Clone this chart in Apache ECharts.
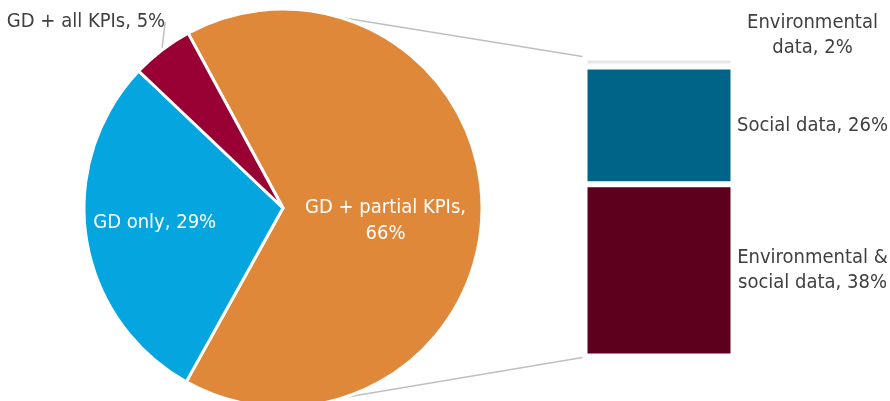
<!DOCTYPE html>
<html><head><meta charset="utf-8">
<script src="https://cdn.jsdelivr.net/npm/echarts@6/dist/echarts.min.js"></script>
<style>html,body{margin:0;padding:0;background:#fff}#c{width:890px;height:401px}</style>
</head><body><div id="c"></div>
<script>
// Pie data
const pieNames = ['GD + partial KPIs', 'GD only', 'GD + all KPIs'];
const pieValues = [66, 29, 5];
// Bar (breakdown of GD + partial KPIs), bottom to top
const barNames = ['Environmental & social data', 'Social data', 'Environmental data'];
const barValues = [38, 26, 2];
const barLabels = ['Environmental &\nsocial data, 38%', 'Social data, 26%', 'Environmental\ndata, 2%'];

const FONT = 'DejaVu Sans Condensed';
const FS = 20;
const pieColors = ['#E0883A', '#05A6E0', '#990033'];
const barColors = ['#5C001E', '#006388', '#E6E6E6'];
const PC = [283, 208], PR = 199;
const GL = 584.5, GW = 149, GT = 57.5, GB = 44.5;

const chart = echarts.init(document.getElementById('c'), null, {renderer: 'canvas'});

const pieData = pieNames.map((n, i) => {
  const d = {name: n, value: pieValues[i], itemStyle: {color: pieColors[i]}};
  if (i === 0) d.label = {position: 'inside', offset: [0, 12], color: '#fff', formatter: '{b},\n{c}%'};
  if (i === 1) d.label = {position: 'inside', offset: [-27, -1], color: '#fff'};
  if (i === 2) d.label = {position: 'outside', color: '#404040', overflow: 'none'};
  return d;
});

const barSeries = barValues.map((v, i) => ({
  type: 'bar', stack: 'b', name: barNames[i], barWidth: '100%',
  data: [v],
  itemStyle: {color: barColors[i], borderColor: '#fff', borderWidth: 3},
  label: {
    show: true, formatter: barLabels[i],
    position: i === 2 ? [228, -22.5] : [228, '50%'],
    align: 'center', verticalAlign: 'middle',
    color: '#404040', fontFamily: FONT, fontSize: FS, lineHeight: 25
  },
  silent: true, animation: false
}));

chart.setOption({
  animation: false,
  grid: {left: GL, width: GW, top: GT, bottom: GB, containLabel: false},
  xAxis: {type: 'category', data: ['GD + partial KPIs'], show: false},
  yAxis: {type: 'value', min: 0, max: 66, show: false},
  series: [{
    type: 'pie', center: PC, radius: PR, startAngle: 118.5, clockwise: true,
    data: pieData, animation: false, silent: true,
    itemStyle: {borderColor: '#fff', borderWidth: 3},
    label: {show: true, formatter: '{b}, {c}%', fontFamily: FONT, fontSize: FS, lineHeight: 26, align: 'center', overflow: 'none'},
    labelLine: {show: true, length: 2, length2: 0, lineStyle: {color: '#BFBFBF', width: 1.5}},
    labelLayout: function (p) {
      if (p.dataIndex === 2) return {x: 86, y: 22, align: 'center', verticalAlign: 'middle'};
    }
  }].concat(barSeries)
});

// connector lines from the pie edge to the bar
function piePt(deg) {
  const a = deg * Math.PI / 180;
  return [PC[0] + PR * Math.cos(a), PC[1] - PR * Math.sin(a)];
}
const yTop = chart.convertToPixel({yAxisIndex: 0}, 66);
const yBot = chart.convertToPixel({yAxisIndex: 0}, 0);
const p1 = piePt(73.5), p2 = piePt(-72.5);
chart.setOption({graphic: [
  {type: 'line', shape: {x1: p1[0], y1: p1[1], x2: GL - 2, y2: yTop - 1}, style: {stroke: '#BFBFBF', lineWidth: 1.5}, silent: true},
  {type: 'line', shape: {x1: p2[0], y1: p2[1], x2: GL - 2, y2: yBot + 1}, style: {stroke: '#BFBFBF', lineWidth: 1.5}, silent: true}
]});
</script></body></html>
